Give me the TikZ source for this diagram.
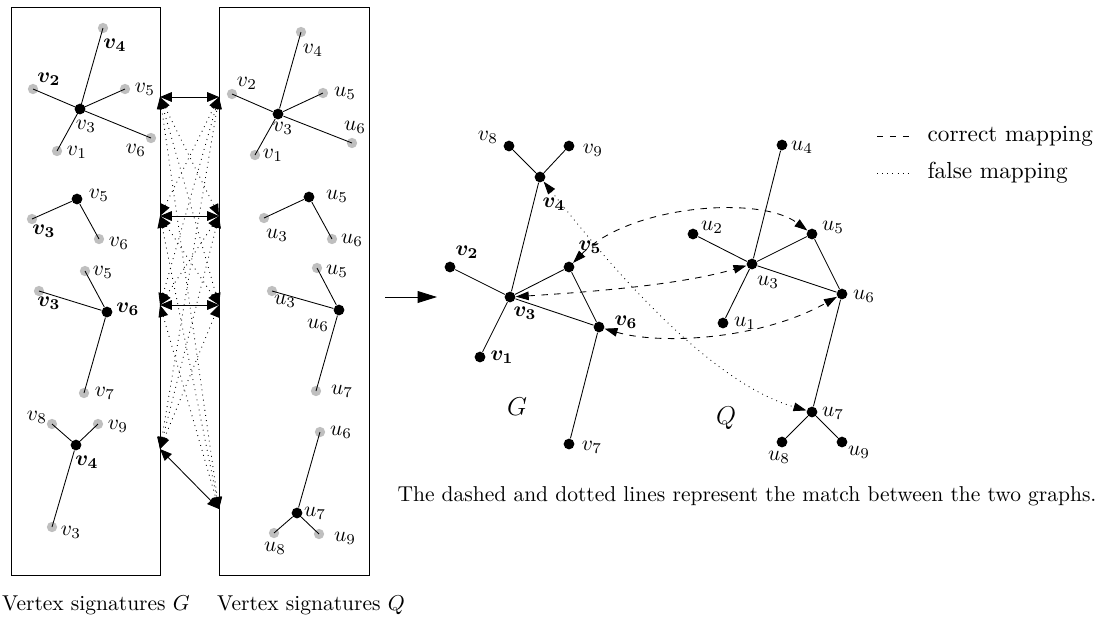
\documentclass[tikz,border=0pt]{standalone}
\usepackage{bm}
\usepackage{tikz}
\usetikzlibrary{arrows.meta, positioning}

\tikzset{
  core/.style={circle, fill=black, inner sep=0pt, minimum size=5pt},
  leaf/.style={circle, fill=black!25, inner sep=0pt, minimum size=4.8pt},
  vtx/.style={circle, fill=black, inner sep=0pt, minimum size=5pt},
  lab/.style={inner sep=0pt},
  sigarrow/.style={{Triangle[length=5.5pt,width=4.5pt]}-{Triangle[length=5.5pt,width=4.5pt]}},
  matcharrow/.style={dashed, {Triangle[length=6pt,width=4pt]}-{Triangle[length=6pt,width=4pt]}},
  missarrow/.style={dotted, {Triangle[length=6pt,width=4pt]}-{Triangle[length=6pt,width=4pt]}}
}

\begin{document}
\begin{tikzpicture}[x=0.465pt, y=-0.465pt]
\useasboundingbox (0,0) rectangle (1101,619);

% signature boxes
\draw (11,7) rectangle (160,575);
\draw (219,7) rectangle (369,575);
\node (capG) at (96,605) {Vertex signatures $G$};
\node (capQ) at (311,605) {Vertex signatures $Q$};

% signatures of G
\node[leaf] (a4) at (103,28) {};  \node[lab] (a4l) at (115,45) {$\bm{v_4}$};
\node[leaf] (a2) at (33,89) {};   \node[lab] (a2l) at (49,79) {$\bm{v_2}$};
\node[leaf] (a5) at (125,89) {};  \node[lab] (a5l) at (145,89) {$v_5$};
\node[leaf] (a6) at (151,138) {}; \node[lab] (a6l) at (136,150) {$v_6$};
\node[leaf] (a1) at (57,151) {};  \node[lab] (a1l) at (77,152) {$v_1$};
\draw (a4.center) -- (80,109) (a2.center) -- (80,109) (a5.center) -- (80,109)
      (a6.center) -- (80,109) (a1.center) -- (80,109);
\node[core] (a3) at (80,109) {};  \node[lab] (a3l) at (86,126) {$v_3$};

\node[leaf] (b3) at (32,219) {};  \node[lab] (b3l) at (44,231) {$\bm{v_3}$};
\node[leaf] (b6) at (99,239) {};  \node[lab] (b6l) at (119,243) {$v_6$};
\node[core] (b5) at (77,199) {};  \node[lab] (b5l) at (99,195) {$v_5$};
\draw (b5) -- (b3.center) (b5) -- (b6.center);

\node[leaf] (c5) at (85,271) {};  \node[lab] (c5l) at (103,272) {$v_5$};
\node[leaf] (c3) at (39,291) {};
\node[leaf] (c7) at (84,393) {};  \node[lab] (c7l) at (105,393) {$v_7$};
\node[core] (c6) at (107,312) {}; \node[lab] (c6l) at (128,309) {$\bm{v_6}$};
\draw (c6) -- (c5.center) (c6) -- (c3.center) (c6) -- (c7.center);
\node[lab] (c3l) at (49,303) {$\bm{v_3}$};

\node[leaf] (d8) at (52,424) {};  \node[lab] (d8l) at (37,417) {$v_8$};
\node[leaf] (d9) at (98,424) {};  \node[lab] (d9l) at (118,426) {$v_9$};
\node[leaf] (d3) at (52,527) {};  \node[lab] (d3l) at (71,532) {$v_3$};
\node[core] (d4) at (76,445) {};  \node[lab] (d4l) at (87,462) {$\bm{v_4}$};
\draw (d4) -- (d8.center) (d4) -- (d9.center) (d4) -- (d3.center);

% signatures of Q
\node[leaf] (e4) at (301,32) {};  \node[lab] (e4l) at (313,50) {$v_4$};
\node[leaf] (e2) at (232,94) {};  \node[lab] (e2l) at (247,83) {$v_2$};
\node[leaf] (e5) at (323,93) {};  \node[lab] (e5l) at (345,93) {$u_5$};
\node[leaf] (e6) at (352,143) {}; \node[lab] (e6l) at (355,127) {$u_6$};
\node[leaf] (e1) at (255,155) {}; \node[lab] (e1l) at (273,155) {$v_1$};
\node[core] (e3) at (278,114) {}; \node[lab] (e3l) at (283,128) {$v_3$};
\draw (e3) -- (e4.center) (e3) -- (e2.center) (e3) -- (e5.center)
      (e3) -- (e6.center) (e3) -- (e1.center);

\node[leaf] (f3) at (264,218) {}; \node[lab] (f3l) at (277,235) {$u_3$};
\node[leaf] (f6) at (332,239) {}; \node[lab] (f6l) at (352,240) {$u_6$};
\node[core] (f5) at (309,197) {}; \node[lab] (f5l) at (337,196) {$u_5$};
\draw (f5) -- (f3.center) (f5) -- (f6.center);

\node[leaf] (h5) at (317,268) {}; \node[lab] (h5l) at (337,271) {$u_5$};
\node[leaf] (h3) at (272,291) {};
\node[leaf] (h7) at (316,391) {}; \node[lab] (h7l) at (342,391) {$u_7$};
\node[core] (h6) at (339,310) {}; \node[lab] (h6l) at (318,325) {$u_6$};
\draw (h6) -- (h5.center) (h6) -- (h3.center) (h6) -- (h7.center);
\node[lab] (h3l) at (285,301) {$u_3$};

\node[leaf] (k6) at (320,432) {}; \node[lab] (k6l) at (341,432) {$u_6$};
\node[leaf] (k8) at (274,533) {}; \node[lab] (k8l) at (275,548) {$u_8$};
\node[leaf] (k9) at (319,534) {}; \node[lab] (k9l) at (345,538) {$u_9$};
\node[core] (k7) at (297,513) {}; \node[lab] (k7l) at (315,513) {$u_7$};
\draw (k7) -- (k6.center) (k7) -- (k8.center) (k7) -- (k9.center);

% links between the signatures
\coordinate (sl1) at (160,97);  \coordinate (sr1) at (219,97);
\coordinate (sl2) at (160,216); \coordinate (sr2) at (219,216);
\coordinate (sl3) at (160,305); \coordinate (sr3) at (219,305);
\coordinate (sl4) at (160,449); \coordinate (sr4) at (219,509);
\foreach \i in {1,...,4}{
  \foreach \j in {1,...,4}{
    \ifnum\i=\j
      \draw[sigarrow] (sl\i) -- (sr\j);
    \else
      \draw[sigarrow, dotted] (sl\i) -- (sr\j);
    \fi
  }
}

\coordinate (arrS) at (385,297);
\coordinate (arrE) at (437,297);
\draw[-{Triangle[length=9pt,width=5.5pt]}] (arrS) -- (arrE);

% graph G
\node[vtx] (g8) at (509,146) {}; \node[lab] (g8l) at (488,137) {$v_8$};
\node[vtx] (g9) at (569,146) {}; \node[lab] (g9l) at (593,150) {$v_9$};
\node[vtx] (g4) at (540,177) {}; \node[lab] (g4l) at (554,204) {$\bm{v_4}$};
\node[vtx] (g2) at (450,267) {}; \node[lab] (g2l) at (467,252) {$\bm{v_2}$};
\node[vtx] (g5) at (569,267) {}; \node[lab] (g5l) at (590,247) {$\bm{v_5}$};
\node[vtx] (g3) at (510,297) {}; \node[lab] (g3l) at (525,313) {$\bm{v_3}$};
\node[vtx] (g6) at (599,327) {}; \node[lab] (g6l) at (626,322) {$\bm{v_6}$};
\node[vtx] (g1) at (480,357) {}; \node[lab] (g1l) at (502,357) {$\bm{v_1}$};
\node[vtx] (g7) at (569,444) {}; \node[lab] (g7l) at (592,447) {$v_7$};
\node (gname) at (517,407) {\large $G$};
\draw (g8) -- (g4) (g9) -- (g4) (g4) -- (g3) (g2) -- (g3) (g3) -- (g5)
      (g3) -- (g1) (g3) -- (g6) (g5) -- (g6) (g6) -- (g7);

% graph Q
\node[vtx] (q4) at (782,145) {}; \node[lab] (q4l) at (802,147) {$u_4$};
\node[vtx] (q2) at (693,234) {}; \node[lab] (q2l) at (712,227) {$u_2$};
\node[vtx] (q5) at (812,234) {}; \node[lab] (q5l) at (833,227) {$u_5$};
\node[vtx] (q3) at (752,264) {}; \node[lab] (q3l) at (768,282) {$u_3$};
\node[vtx] (q6) at (842,294) {}; \node[lab] (q6l) at (864,296) {$u_6$};
\node[vtx] (q1) at (723,323) {}; \node[lab] (q1l) at (745,323) {$u_1$};
\node[vtx] (q7) at (812,412) {}; \node[lab] (q7l) at (833,413) {$u_7$};
\node[vtx] (q8) at (782,442) {}; \node[lab] (q8l) at (779,457) {$u_8$};
\node[vtx] (q9) at (842,442) {}; \node[lab] (q9l) at (859,452) {$u_9$};
\node (qname) at (726,418) {\large $Q$};
\draw (q4) -- (q3) (q2) -- (q3) (q3) -- (q5) (q3) -- (q1) (q3) -- (q6)
      (q5) -- (q6) (q6) -- (q7) (q7) -- (q8) (q7) -- (q9);

% mappings
\draw[matcharrow] (g5) .. controls (630,205) and (760,195) .. (q5);
\draw[matcharrow] (g3) .. controls (590,292) and (680,285) .. (q3);
\draw[matcharrow] (g6) .. controls (660,345) and (760,340) .. (q6);
\draw[missarrow] (g4) .. controls (590,240) and (700,380) .. (q7);

% legend
\coordinate (cm1) at (877,136); \coordinate (cm2) at (913,136);
\coordinate (fm1) at (877,173); \coordinate (fm2) at (913,173);
\draw[dashed] (cm1) -- (cm2);
\draw[dotted] (fm1) -- (fm2);
\node[anchor=west] (cmtext) at (920,136) {\fontsize{10.8}{13}\selectfont correct mapping};
\node[anchor=west] (fmtext) at (920,173) {\fontsize{10.8}{13}\selectfont false mapping};

\node (note) at (747,496) {The dashed and dotted lines represent the match between the two graphs.};
\end{tikzpicture}
\end{document}
